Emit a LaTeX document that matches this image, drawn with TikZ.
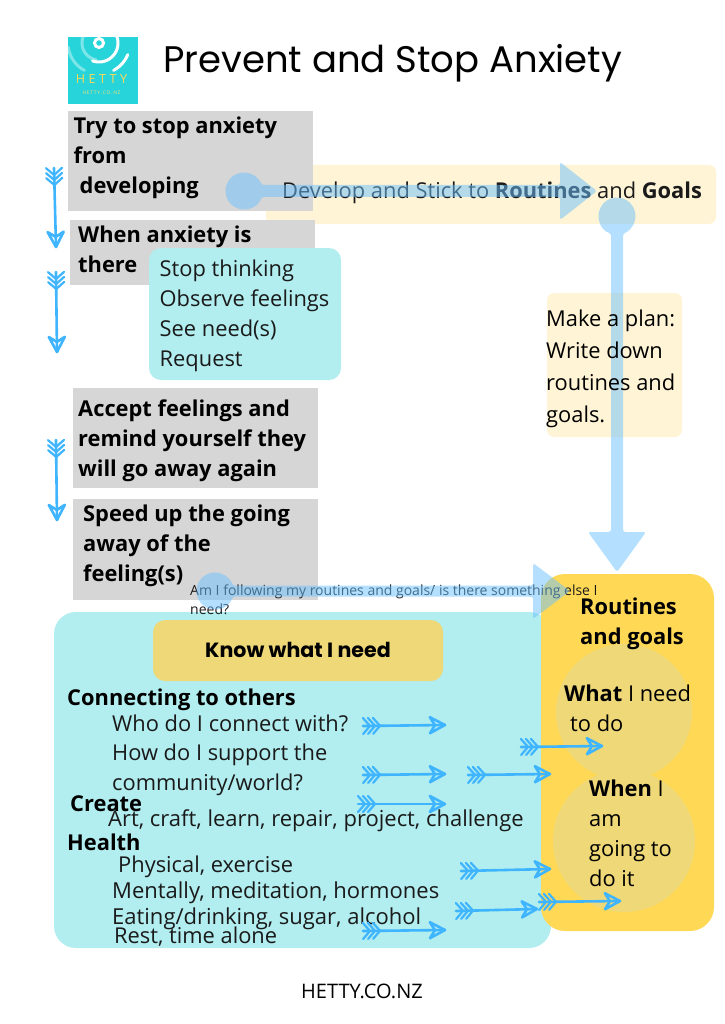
\documentclass[tikz,border=0pt]{standalone}
\usepackage{fontspec}
\setmainfont{Open Sans}
\newfontfamily\titlefont{Poppins}
\usetikzlibrary{decorations.markings,positioning}
\definecolor{graybox}{HTML}{D6D6D6}
\definecolor{cream}{HTML}{FFF5D6}
\definecolor{aqua}{HTML}{B2EDEF}
\definecolor{sun}{HTML}{FFD955}
\definecolor{sand}{HTML}{EFD877}
\definecolor{logoteal}{HTML}{26D4DA}
\definecolor{skyarrow}{HTML}{3FB4FF}
\definecolor{bigarrow}{HTML}{6BC1FF}
\definecolor{inktext}{HTML}{1A1A1A}
\tikzset{
  x=1pt,y=-1pt,
  txt/.style={anchor=base west,inner sep=0pt,text=inktext,font=\fontsize{21.85}{26}\selectfont},
  btxt/.style={txt,text=black,font=\fontsize{21.85}{26}\selectfont\bfseries},
  wtxt/.style={txt,font=\fontsize{22}{26}\selectfont},
  feather/.style={draw=skyarrow,line width=2.6pt,line cap=round,line join=round,
    postaction={decorate,decoration={markings,
      mark=at position 0 with {
        \draw[skyarrow,line width=2.2pt,line cap=round,line join=round] (0,-8)--(7,0)--(0,8) (5,-8)--(12,0)--(5,8) (10,-8)--(17,0)--(10,8);},
      mark=at position 0.999 with {
        \draw[skyarrow,line width=2.6pt,line join=round] (-15,-8)--(0,0)--(-15,8)--(-10,0)--cycle;}}}},
  overlaybig/.style={fill=bigarrow,fill opacity=.5,rounded corners=2.5pt},
  ringw/.style={white,line cap=round,line width=3pt},
  ringf/.style={white,opacity=.4,line cap=round,line width=3pt},
}
% x, y, rotation, radius, shaft length, head length, head half width, shaft half width
\newcommand\bigdot[8]{%
  \begin{scope}[shift={(#1,#2)},rotate=#3]
  \pgfmathsetmacro\ang{asin(#8/#4)}
  \fill[overlaybig] (\ang:#4) arc (\ang:360-\ang:#4) -- (#5,-#8) -- (#5,-#7) -- ({#5+#6},0) -- (#5,#7) -- (#5,#8) -- cycle;
  \end{scope}}
% style, radius, from angle, to angle (angles run clockwise on the page)
\newcommand\logoarc[4]{\draw[#1] plot[domain=#3:#4,samples=30,smooth] ({99+#2*cos(\x)},{43+#2*sin(\x)});}
\begin{document}
\begin{tikzpicture}
\useasboundingbox (0,0) rectangle (724,1024);
\fill[white] (0,0) rectangle (724,1024);

% logo
\begin{scope}
\clip (68,37) rectangle (138,104);
\fill[logoteal] (68,37) rectangle (138,104);
\draw[white,line width=3pt] (99,43) circle (4.5);
\logoarc{ringw}{19}{-25}{110}
\logoarc{ringw}{31}{22}{62}
\logoarc{ringf}{17}{100}{200}
\logoarc{ringf}{31}{118}{172}
\end{scope}
\node[inner sep=0pt,text=sun,font=\fontsize{12.5}{14}\selectfont] (logoname) at (101.5,79) {H\hspace{3.6pt}E\hspace{3.6pt}T\hspace{3.6pt}T\hspace{3.6pt}Y};
\node[inner sep=0pt,text=sun!80!white,font=\fontsize{4.8}{6}\selectfont] (logourl) at (101.5,92.5) {H\,E\,T\,T\,Y\,.\,C\,O\,.\,N\,Z};
\node[anchor=base west,inner sep=0pt,text=black,font=\fontsize{37}{44}\titlefont] (title) at (163,73) {Prevent and Stop Anxiety};

% boxes
\fill[cream,rounded corners=7pt] (266,165) rectangle (716,224);
\fill[graybox] (68,111) rectangle (313,211);
\fill[graybox] (70,220) rectangle (315,285);
\fill[aqua,rounded corners=12pt] (149,248) rectangle (341,380);
\fill[cream,rounded corners=7pt] (547,293) rectangle (682,437);
\fill[graybox] (73,388) rectangle (318,488);
\fill[graybox] (73,499) rectangle (318,600);
\fill[aqua,rounded corners=22pt] (54,612) rectangle (551,948);
\fill[sun,rounded corners=24pt] (541,574) rectangle (714,931);
\fill[sand,rounded corners=12pt] (153,620) rectangle (443,681);
\fill[sand] (624,712) circle (68);
\fill[sand] (624,841) circle (71);

% texts
\node[btxt] (t1a) at (73.5,134) {Try to stop anxiety};
\node[btxt] (t1b) at (73.5,164) {from};
\node[btxt] (t1c) at (79.5,194) {developing};
\node[btxt] (t2a) at (78,242) {When anxiety is};
\node[btxt] (t2b) at (78,272) {there};
\node[txt] (s1) at (159.5,276) {Stop thinking};
\node[txt] (s2) at (159.5,306) {Observe feelings};
\node[txt] (s3) at (159.5,336) {See need(s)};
\node[txt] (s4) at (159.5,366) {Request};
\node[btxt] (t3a) at (78,416) {Accept feelings and};
\node[btxt] (t3b) at (78,446) {remind yourself they};
\node[btxt] (t3c) at (78,476) {will go away again};
\node[btxt] (t4a) at (83,521) {Speed up the going};
\node[btxt] (t4b) at (83,551) {away of the};
\node[btxt] (t4c) at (83,581) {feeling(s)};
\node[txt] (dev) at (282,199) {Develop and Stick to \textbf{Routines} and \textbf{Goals}};
\node[txt,font=\fontsize{14}{17}\selectfont] (q1) at (190,595) {Am I following my routines and goals/ is there something else I};
\node[txt,font=\fontsize{14}{17}\selectfont] (q2) at (190,614) {need?};
\node[btxt] (r1) at (580,614) {Routines};
\node[btxt] (r2) at (580,644) {and goals};
\node[anchor=base,inner sep=0pt,text=black,font=\fontsize{20.6}{24}\titlefont\bfseries] (know) at (298,657) {Know what I need};
\node[btxt] (c0) at (67,705) {Connecting to others};
\node[txt] (c1) at (112,731) {Who do I connect with?};
\node[txt] (c2) at (112,760) {How do I support the};
\node[txt] (c3) at (112,790) {community/world?};
\node[btxt] (c4) at (70,811) {Create};
\node[wtxt] (c5) at (108,826) {Art, craft, learn, repair, project, challenge};
\node[btxt] (c6) at (67,850) {Health};
\node[txt] (c7) at (118,872) {Physical, exercise};
\node[wtxt] (c8) at (112,898) {Mentally, meditation, hormones};
\node[wtxt] (c9) at (112,924) {Eating/drinking, sugar, alcohol};
\node[txt] (c10) at (114,943) {Rest, time alone};
\node[txt,text=black] (w1) at (564,701) {\textbf{What} I need};
\node[txt,text=black] (w2) at (570,731) {to do};
\node[txt,text=black] (n1) at (589,796) {\textbf{When} I};
\node[txt,text=black] (n2) at (589,826) {am};
\node[txt,text=black] (n3) at (589,856) {going to};
\node[txt,text=black] (n4) at (589,886) {do it};
\node[anchor=base,inner sep=0pt,text=black,font=\fontsize{20}{24}\selectfont] (site) at (362,998) {HETTY.CO.NZ};

% big translucent arrows
\bigdot{244}{191}{0}{18.5}{316}{37}{29}{6}
\bigdot{617}{216}{-90}{18.5}{316}{40}{29}{6}
\bigdot{215}{591}{0}{18.5}{318}{37}{28}{5.5}

% plan text lies over the vertical arrow
\node[txt,text=black] (p1) at (546,326) {Make a plan:};
\node[txt,text=black] (p2) at (546,358) {Write down};
\node[txt,text=black] (p3) at (546,390) {routines and};
\node[txt,text=black] (p4) at (546,422) {goals.};

% hand drawn arrows
\coordinate (a1s) at (54,168); \coordinate (a1e) at (56,247);
\coordinate (a2s) at (56,272); \coordinate (a2e) at (57,352);
\coordinate (a3s) at (56,440); \coordinate (a3e) at (57,520);
\coordinate (b1s) at (363,726); \coordinate (b1e) at (445,725);
\coordinate (b2s) at (521,747); \coordinate (b2e) at (602,746);
\coordinate (b3s) at (363,775); \coordinate (b3e) at (445,774);
\coordinate (b4s) at (468,775); \coordinate (b4e) at (550,774);
\coordinate (b5s) at (358,804); \coordinate (b5e) at (445,804);
\coordinate (b6s) at (461,871); \coordinate (b6e) at (550,869);
\coordinate (b7s) at (456,911); \coordinate (b7e) at (537,909);
\coordinate (b8s) at (539,902); \coordinate (b8e) at (620,901);
\coordinate (b9s) at (363,931); \coordinate (b9e) at (445,930);
\foreach \n in {a1,a2,a3,b1,b2,b3,b4,b5,b6,b7,b8,b9}
  \draw[feather] (\n s) -- (\n e);
\end{tikzpicture}
\end{document}
